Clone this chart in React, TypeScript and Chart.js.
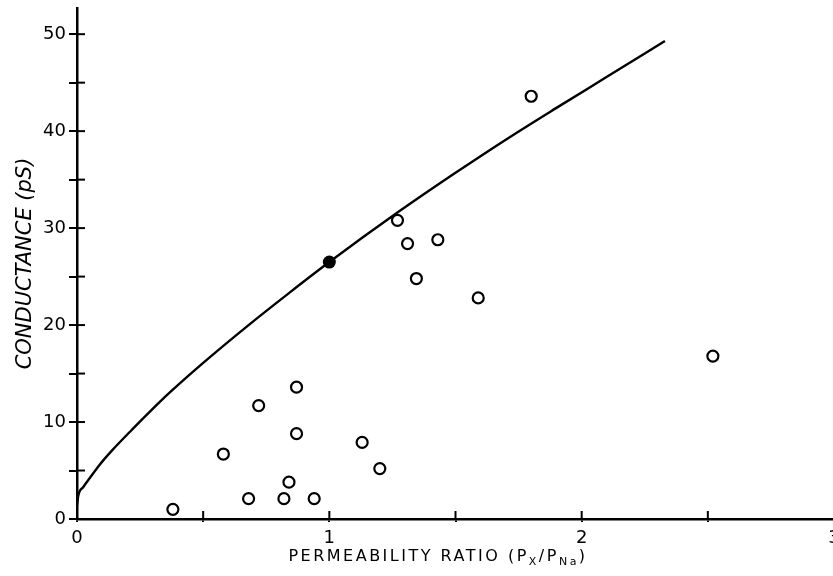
import React, { useEffect, useRef } from "react";
import { Chart, registerables } from "chart.js";

Chart.register(...registerables);

// Fitted curve
const curveX = [0, 0.005, 0.025, 0.05, 0.09, 0.14, 0.21, 0.29, 0.37, 0.5, 0.68, 0.84, 1.0, 1.27, 1.5, 1.71, 1.9, 2.1, 2.33];
const curveY = [1.4, 2.4, 3.3, 4.2, 5.6, 7.1, 9.0, 11.1, 13.1, 16.1, 20.0, 23.3, 26.5, 31.6, 35.7, 39.3, 42.4, 45.6, 49.3];

// Open circles
const openX = [0.38, 0.58, 0.68, 0.72, 0.82, 0.84, 0.87, 0.87, 0.94, 1.13, 1.2, 1.27, 1.31, 1.345, 1.43, 1.59, 1.8, 2.52];
const openY = [1.0, 6.7, 2.1, 11.7, 2.1, 3.8, 13.6, 8.8, 2.1, 7.9, 5.2, 30.8, 28.4, 24.8, 28.8, 22.8, 43.6, 16.8];

// Filled circle
const filledX = [1.0];
const filledY = [26.5];

// Axes
const xTickValues = [0, 0.5, 1, 1.5, 2, 2.5, 3];
const xTickLabels = ["0", "", "1", "", "2", "", "3"];
const yTickValues = [0, 5, 10, 15, 20, 25, 30, 35, 40, 45, 50];
const yTickLabels = ["0", "", "10", "", "20", "", "30", "", "40", "", "50"];
const yTitle = "CONDUCTANCE (pS)";
const xTitleParts = [
  { text: "PERMEABILITY RATIO (P", sub: false },
  { text: "X", sub: true },
  { text: "/P", sub: false },
  { text: "Na", sub: true },
  { text: ")", sub: false },
];

const FONT = "'DejaVu Sans', 'Liberation Sans', sans-serif";

const innerTicks = {
  id: "innerTicks",
  afterDraw(chart: any) {
    const { ctx, chartArea } = chart;
    const xs = chart.scales.x;
    const ys = chart.scales.y;
    ctx.save();
    ctx.strokeStyle = "#000";
    ctx.lineWidth = 2;
    ys.ticks.forEach((t: any) => {
      const py = ys.getPixelForValue(t.value);
      ctx.beginPath();
      ctx.moveTo(chartArea.left, py);
      ctx.lineTo(chartArea.left + 8, py);
      ctx.stroke();
    });
    xs.ticks.forEach((t: any) => {
      const px = xs.getPixelForValue(t.value);
      ctx.beginPath();
      ctx.moveTo(px, chartArea.bottom);
      ctx.lineTo(px, chartArea.bottom - 8);
      ctx.stroke();
    });
    // x-axis title with subscripts
    const mainFont = `16px ${FONT}`;
    const subFont = `11px ${FONT}`;
    (ctx as any).letterSpacing = "2.5px";
    let total = 0;
    xTitleParts.forEach((p) => {
      ctx.font = p.sub ? subFont : mainFont;
      total += ctx.measureText(p.text).width;
    });
    const cx = 438;
    const baseY = 561;
    let x = cx - total / 2;
    ctx.fillStyle = "#000";
    ctx.textBaseline = "alphabetic";
    ctx.textAlign = "left";
    xTitleParts.forEach((p) => {
      ctx.font = p.sub ? subFont : mainFont;
      ctx.fillText(p.text, x, p.sub ? baseY + 4 : baseY);
      x += ctx.measureText(p.text).width;
    });
    ctx.restore();
  },
};

export default function App() {
  const ref = useRef<HTMLCanvasElement | null>(null);
  useEffect(() => {
    document.documentElement.style.overflow = "hidden";
    const canvas = ref.current;
    if (!canvas) return;
    const chart = new Chart(canvas, {
      type: "scatter",
      data: {
        datasets: [
          {
            label: "open",
            data: openX.map((x, i) => ({ x, y: openY[i] })),
            pointRadius: 5.5,
            pointBorderWidth: 2.2,
            pointBackgroundColor: "#fff",
            pointBorderColor: "#000",
            showLine: false,
            order: 0,
          },
          {
            label: "filled",
            data: filledX.map((x, i) => ({ x, y: filledY[i] })),
            pointRadius: 6.5,
            pointBorderWidth: 0,
            pointBackgroundColor: "#000",
            pointBorderColor: "#000",
            showLine: false,
            order: 0,
          },
          {
            label: "curve",
            type: "line",
            data: curveX.map((x, i) => ({ x, y: curveY[i] })),
            borderColor: "#000",
            borderWidth: 2.4,
            pointRadius: 0,
            showLine: true,
            fill: false,
            cubicInterpolationMode: "monotone",
            order: 1,
          } as any,
        ],
      },
      options: {
        animation: false,
        responsive: false,
        layout: { autoPadding: false, padding: { left: 0, top: 8, right: 11, bottom: 0 } } as any,
        plugins: { legend: { display: false }, tooltip: { enabled: false } },
        scales: {
          x: {
            type: "linear",
            min: 0,
            max: 3,
            afterBuildTicks: (s: any) => {
              s.ticks = xTickValues.map((v) => ({ value: v }));
            },
            afterFit: (s: any) => {
              s.height = 57;
              s.paddingLeft = 0;
              s.paddingRight = 0;
            },
            ticks: {
              autoSkip: false,
              maxRotation: 0,
              padding: 6,
              color: "#000",
              font: { family: FONT, size: 18 },
              callback: (v: any) => {
                const i = xTickValues.indexOf(Number(v));
                return i >= 0 ? xTickLabels[i] : "";
              },
            },
            grid: { drawOnChartArea: false, drawTicks: true, tickLength: 3, color: "#000", lineWidth: 2 },
            border: { display: true, color: "#000", width: 2.5 },
          },
          y: {
            type: "linear",
            min: 0,
            max: 52.7,
            afterBuildTicks: (s: any) => {
              s.ticks = yTickValues.map((v) => ({ value: v }));
            },
            afterFit: (s: any) => {
              s.width = 77;
              s.paddingTop = 0;
              s.paddingBottom = 0;
            },
            ticks: {
              autoSkip: false,
              padding: 3,
              color: "#000",
              font: { family: FONT, size: 18 },
              callback: (v: any) => {
                const i = yTickValues.indexOf(Number(v));
                return i >= 0 ? yTickLabels[i] : "";
              },
            },
            grid: { drawOnChartArea: false, drawTicks: true, tickLength: 8, color: "#000", lineWidth: 2 },
            border: { display: true, color: "#000", width: 2.5 },
            title: {
              display: true,
              text: yTitle,
              color: "#000",
              font: { family: FONT, size: 21, style: "italic" },
              padding: { top: 13, bottom: 0 },
            },
          },
        },
      },
      plugins: [innerTicks],
    });
    return () => chart.destroy();
  }, []);
  return (
    <div style={{ position: "fixed", left: 0, top: 0, width: 845, height: 576, background: "#fff" }}>
      <canvas ref={ref} width={845} height={576} style={{ display: "block" }} />
    </div>
  );
}
